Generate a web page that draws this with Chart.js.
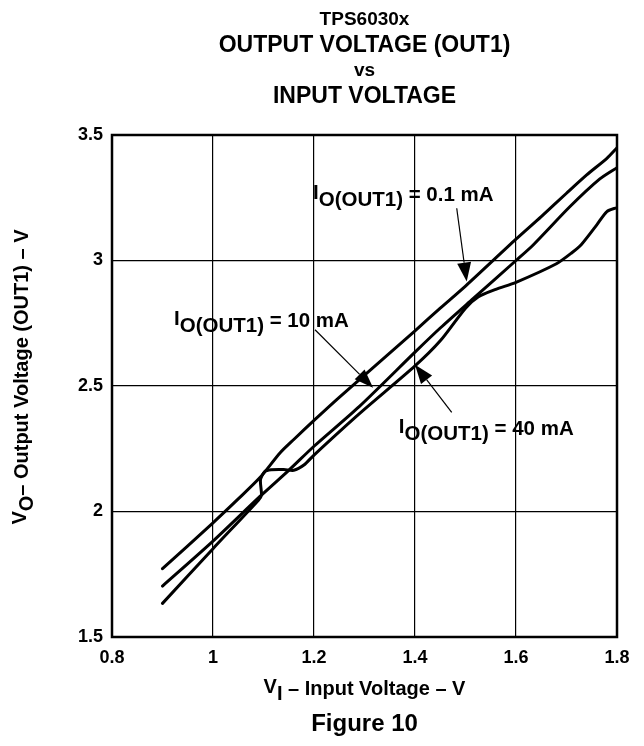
<!DOCTYPE html>
<html>
<head>
<meta charset="utf-8">
<script src="https://cdn.jsdelivr.net/npm/chart.js@4.4.0/dist/chart.umd.min.js"></script>
<style>
  html, body { margin: 0; padding: 0; background: #fff; }
</style>
</head>
<body>
<canvas id="grafik" width="644" height="746"></canvas>
<script>
// values, V_I (V) -> V_O (V)
const vin01 = [0.9, 1.0, 1.05, 1.093, 1.133, 1.16, 1.2, 1.25, 1.4, 1.45, 1.5, 1.6, 1.65, 1.7, 1.74, 1.78, 1.8];
const vout01 = [1.772, 1.955, 2.05, 2.135, 2.234, 2.287, 2.363, 2.455, 2.72, 2.81, 2.898, 3.085, 3.175, 3.268, 3.341, 3.407, 3.449];

const vin10 = [0.9, 1.0, 1.093, 1.15, 1.2, 1.29, 1.4, 1.45, 1.515, 1.6, 1.634, 1.707, 1.766, 1.8];
const vout10 = [1.703, 1.882, 2.06, 2.164, 2.26, 2.419, 2.635, 2.731, 2.848, 3.0, 3.062, 3.215, 3.325, 3.37];

const vin40 = [0.9, 1.0, 1.09, 1.096, 1.094, 1.102, 1.115, 1.14, 1.16, 1.18, 1.2, 1.29, 1.4, 1.45, 1.5, 1.525, 1.56, 1.6, 1.68, 1.71, 1.73, 1.76, 1.78, 1.8];
const vout40 = [1.634, 1.852, 2.045, 2.065, 2.125, 2.158, 2.166, 2.167, 2.164, 2.185, 2.225, 2.39, 2.58, 2.68, 2.81, 2.855, 2.885, 2.913, 2.987, 3.03, 3.065, 3.142, 3.195, 3.211];

const loads = ["0.1 mA", "10 mA", "40 mA"];

const xMin = 0.8, xMax = 1.8, xStep = 0.2;
const yMin = 1.5, yMax = 3.5, yStep = 0.5;

const titleLines = ["TPS6030x", "OUTPUT VOLTAGE (OUT1)", "vs", "INPUT VOLTAGE"];

const FONT = "'Liberation Sans', Arial, sans-serif";

// callouts, anchored in data units
const notes = [
  { text: " = 0.1 mA", at: [1.198, 3.237], from: [1.4826, 3.208], to: [1.5024, 2.916] },
  { text: " = 10 mA", at: [0.9228, 2.736], from: [1.202, 2.724], to: [1.317, 2.493] },
  { text: " = 40 mA", at: [1.368, 2.306], from: [1.4727, 2.395], to: [1.4, 2.585] }
];

function toPts(xs, ys) {
  return xs.map((x, i) => ({ x: x, y: ys[i] }));
}

// "V" + subscript + rest, subscript same size but dropped
function drawSub(ctx, x, y, main, sub, rest, size, align) {
  ctx.font = "bold " + size + "px " + FONT;
  const w1 = ctx.measureText(main).width;
  const w2 = ctx.measureText(sub).width;
  const w3 = ctx.measureText(rest).width;
  const sx = align === "center" ? x - (w1 + w2 + w3) / 2 : x;
  ctx.textAlign = "left";
  ctx.textBaseline = "alphabetic";
  ctx.fillText(main, sx, y - 2);
  ctx.fillText(sub, sx + w1, y + 5);
  ctx.fillText(rest, sx + w1 + w2, y);
}

function drawArrow(ctx, x1, y1, x2, y2) {
  const ang = Math.atan2(y2 - y1, x2 - x1);
  const len = 19, half = 7;
  ctx.lineWidth = 1.2;
  ctx.beginPath();
  ctx.moveTo(x1, y1);
  ctx.lineTo(x2 - Math.cos(ang) * len, y2 - Math.sin(ang) * len);
  ctx.stroke();
  ctx.beginPath();
  ctx.moveTo(x2, y2);
  ctx.lineTo(x2 - Math.cos(ang) * len - Math.sin(ang) * half, y2 - Math.sin(ang) * len + Math.cos(ang) * half);
  ctx.lineTo(x2 - Math.cos(ang) * len + Math.sin(ang) * half, y2 - Math.sin(ang) * len - Math.cos(ang) * half);
  ctx.closePath();
  ctx.fill();
}

const extras = {
  id: "extras",
  afterDraw(chart) {
    const { ctx, chartArea: a, scales } = chart;
    const sx = scales.x, sy = scales.y;
    const cx = (a.left + a.right) / 2;
    ctx.save();
    ctx.fillStyle = "#000";
    ctx.strokeStyle = "#000";

    // frame
    ctx.lineWidth = 2.5;
    ctx.strokeRect(a.left, a.top, a.right - a.left, a.bottom - a.top);

    // title
    ctx.textAlign = "center";
    ctx.textBaseline = "middle";
    const tY = [20, 46, 71, 97];
    const tS = [19, 23, 19, 23];
    titleLines.forEach((t, i) => {
      ctx.font = "bold " + tS[i] + "px " + FONT;
      ctx.fillText(t, cx, tY[i]);
    });

    // axis titles
    drawSub(ctx, cx, 695, "V", "I", " \u2013 Input Voltage \u2013 V", 20, "center");
    ctx.font = "bold 24px " + FONT;
    ctx.textAlign = "center";
    ctx.textBaseline = "middle";
    ctx.fillText("Figure 10", cx, 724);

    ctx.save();
    ctx.translate(28, 377);
    ctx.rotate(-Math.PI / 2);
    drawSub(ctx, 0, 0, "V", "O", "\u2013 Output Voltage (OUT1) \u2013 V", 20, "center");
    ctx.restore();

    // callouts
    notes.forEach((n) => {
      drawSub(ctx, sx.getPixelForValue(n.at[0]), sy.getPixelForValue(n.at[1]), "I", "O(OUT1)", n.text, 20.5, "left");
      drawArrow(ctx, sx.getPixelForValue(n.from[0]), sy.getPixelForValue(n.from[1]),
        sx.getPixelForValue(n.to[0]), sy.getPixelForValue(n.to[1]));
    });
    ctx.restore();
  }
};

const lineStyle = {
  showLine: true,
  borderColor: "#000",
  backgroundColor: "#000",
  borderWidth: 3,
  borderCapStyle: "round",
  pointRadius: 0,
  tension: 0.25,
  fill: false
};

const tickFmt = (v) => String(+Number(v).toFixed(1));

const ctx = document.getElementById("grafik").getContext("2d");
new Chart(ctx, {
  type: "scatter",
  data: {
    datasets: [
      Object.assign({ label: loads[0], data: toPts(vin01, vout01) }, lineStyle),
      Object.assign({ label: loads[1], data: toPts(vin10, vout10) }, lineStyle),
      Object.assign({ label: loads[2], data: toPts(vin40, vout40) }, lineStyle)
    ]
  },
  options: {
    responsive: false,
    animation: false,
    devicePixelRatio: 1,
    layout: { padding: { top: 135, right: 27, left: 0, bottom: 0 } },
    plugins: { legend: { display: false }, tooltip: { enabled: false } },
    scales: {
      x: {
        type: "linear",
        min: xMin,
        max: xMax,
        afterFit(s) { s.height = 109; },
        ticks: { stepSize: xStep, color: "#000", padding: 10, autoSkip: false, maxRotation: 0,
          callback: tickFmt, font: { family: FONT, size: 18, weight: "bold" } },
        grid: { color: "#000", lineWidth: 1.2, drawTicks: false },
        border: { display: false }
      },
      y: {
        type: "linear",
        min: yMin,
        max: yMax,
        afterFit(s) { s.width = 112; },
        ticks: { stepSize: yStep, color: "#000", padding: 9,
          callback: tickFmt, font: { family: FONT, size: 18, weight: "bold" } },
        grid: { color: "#000", lineWidth: 1.2, drawTicks: false },
        border: { display: false }
      }
    }
  },
  plugins: [extras]
});
</script>
</body>
</html>
